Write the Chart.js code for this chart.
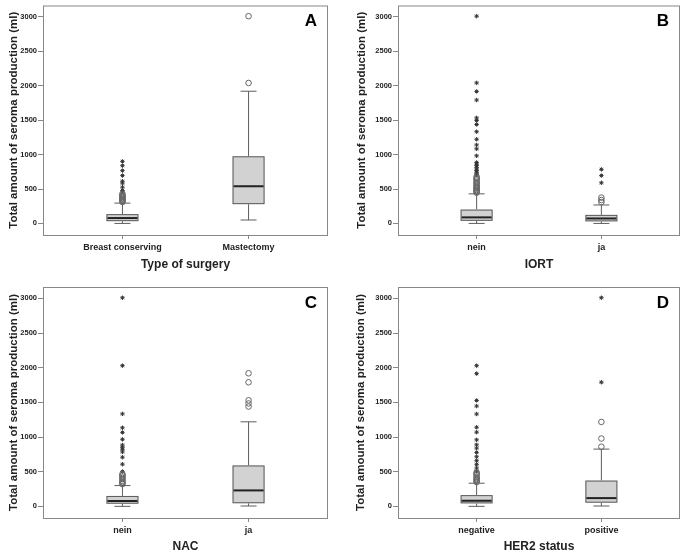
<!DOCTYPE html>
<html>
<head>
<meta charset="utf-8">
<script src="https://cdn.jsdelivr.net/npm/chart.js@4.4.1/dist/chart.umd.min.js"></script>
<style>
  html, body { margin: 0; padding: 0; background: #fff; overflow: hidden; }
  .panel { position: absolute; }
</style>
</head>
<body>
<div class="panel" style="left:0;top:0;width:340px;height:276px"><canvas id="chartA"></canvas></div>
<div class="panel" style="left:340px;top:0;width:345px;height:276px"><canvas id="chartB"></canvas></div>
<div class="panel" style="left:0;top:276px;width:340px;height:277px"><canvas id="chartC"></canvas></div>
<div class="panel" style="left:340px;top:276px;width:345px;height:277px"><canvas id="chartD"></canvas></div>
<script>
// Y axis shared by all panels
const yTitle = 'Total amount of seroma production (ml)';
const yTicks = [0, 500, 1000, 1500, 2000, 2500, 3000];

// Box rows: [lower whisker, Q1, median, Q3, upper whisker]
// A - type of surgery
const surgeryGroups = ['Breast conserving', 'Mastectomy'];
const surgeryBoxes = [[0, 33, 78, 135, 295], [50, 280, 540, 975, 1920]];
const surgeryOutliers = [[311, 322, 335, 345, 358, 370, 383, 398, 412, 431], [2040, 3010]];
const surgeryExtremes = [[455, 479, 527, 585, 613, 695, 767, 839, 901], []];

// B - IORT
const iortGroups = ['nein', 'ja'];
const iortBoxes = [[0, 38, 88, 201, 430], [0, 30, 72, 124, 268]];
const iortOutliers = [[446, 460, 470, 485, 503, 515, 527, 545, 565, 585, 599, 625, 645, 661, 680], [310, 340, 375]];
const iortExtremes = [[705, 719, 745, 767, 790, 815, 840, 862, 886, 982, 1083, 1140, 1222, 1332, 1437, 1495, 1533, 1792, 1917, 2041, 3010], [590, 695, 785]];

// C - NAC
const nacGroups = ['nein', 'ja'];
const nacBoxes = [[0, 38, 77, 150, 300], [5, 45, 230, 590, 1220]];
const nacOutliers = [[321, 336, 350, 369, 393, 410, 430, 450, 465], [1440, 1485, 1530, 1790, 1920]];
const nacExtremes = [[502, 608, 709, 785, 823, 852, 885, 967, 1067, 1134, 1334, 2030, 3010], []];

// D - HER2 status
const her2Groups = ['negative', 'positive'];
const her2Boxes = [[0, 43, 81, 162, 334], [5, 53, 119, 372, 826]];
const her2Outliers = [[350, 362, 380, 395, 411, 430, 458, 475, 490], [860, 979, 1218]];
const her2Extremes = [[506, 554, 606, 659, 716, 778, 840, 888, 960, 1070, 1141, 1332, 1447, 1528, 1915, 2030], [1791, 3010]];

const FONT = "'Liberation Sans', Arial, sans-serif";

// draws frame, boxes, whiskers and the panel letter
const boxPlugin = {
    id: 'boxes',
    beforeDatasetsDraw(chart, args, opts) {
        const { ctx, chartArea: a, scales: { x, y } } = chart;
        ctx.save();
        opts.boxes.forEach((b, i) => {
            const cx = x.getPixelForValue(i + 1);
            const [lo, q1, med, q3, hi] = b.map(v => y.getPixelForValue(v));
            const hw = 16, cw = 8;
            ctx.strokeStyle = '#5e5e5e';
            ctx.lineWidth = 1;
            ctx.beginPath();
            ctx.moveTo(cx, lo); ctx.lineTo(cx, q1);
            ctx.moveTo(cx, q3); ctx.lineTo(cx, hi);
            ctx.moveTo(cx - cw, lo); ctx.lineTo(cx + cw, lo);
            ctx.moveTo(cx - cw, hi); ctx.lineTo(cx + cw, hi);
            ctx.stroke();
            ctx.fillStyle = '#d2d2d2';
            ctx.fillRect(cx - hw, q3, hw * 2, q1 - q3);
            ctx.strokeStyle = '#5a5a5a';
            ctx.strokeRect(cx - hw + 0.5, q3 + 0.5, hw * 2 - 1, q1 - q3 - 1);
            ctx.strokeStyle = '#222';
            ctx.lineWidth = 2;
            ctx.beginPath();
            ctx.moveTo(cx - hw + 1, med); ctx.lineTo(cx + hw - 1, med);
            ctx.stroke();
        });
        ctx.strokeStyle = '#888';
        ctx.lineWidth = 1;
        ctx.strokeRect(a.left + 0.5, a.top + 0.5, a.right - a.left - 1, a.bottom - a.top);
        ctx.fillStyle = '#000';
        ctx.font = 'bold 17px ' + FONT;
        ctx.textAlign = 'center';
        ctx.textBaseline = 'middle';
        ctx.fillText(opts.letter, a.right - 17, a.top + 16);
        ctx.restore();
    }
};

function pointsFor(lists) {
    const pts = [];
    lists.forEach((vals, i) => vals.forEach(v => pts.push({ x: i + 1, y: v })));
    return pts;
}

function makeChart(id, cfg) {
    return new Chart(document.getElementById(id), {
        type: 'scatter',
        data: {
            datasets: [
                {
                    data: pointsFor(cfg.outliers),
                    pointStyle: 'circle',
                    pointRadius: 2.8,
                    borderColor: '#666',
                    backgroundColor: 'rgba(255,255,255,0)',
                    borderWidth: 1
                },
                {
                    data: pointsFor(cfg.extremes),
                    pointStyle: 'star',
                    pointRadius: 2.2,
                    borderColor: '#333',
                    backgroundColor: '#333',
                    borderWidth: 1
                }
            ]
        },
        options: {
            responsive: true,
            maintainAspectRatio: false,
            animation: false,
            events: [],
            layout: { padding: { top: cfg.top, right: cfg.right, left: 0, bottom: 0 } },
            plugins: {
                legend: { display: false },
                tooltip: { enabled: false },
                boxes: { boxes: cfg.boxes, letter: cfg.letter }
            },
            scales: {
                x: {
                    type: 'linear',
                    min: 0.37,
                    max: 2.63,
                    afterBuildTicks: s => { s.ticks = cfg.groups.map((g, i) => ({ value: i + 1 })); },
                    afterFit: s => { s.height = cfg.xh; },
                    ticks: {
                        callback: v => cfg.groups[v - 1],
                        font: { family: FONT, size: 9, weight: 'bold' },
                        color: '#222',
                        padding: 3,
                        maxRotation: 0,
                        autoSkip: false
                    },
                    grid: { drawOnChartArea: false, tickLength: 4, color: '#888' },
                    border: { display: false },
                    title: {
                        display: true,
                        text: cfg.xTitle,
                        font: { family: FONT, size: 12, weight: 'bold', lineHeight: 1 },
                        color: '#222',
                        padding: { top: 0, bottom: cfg.tb }
                    }
                },
                y: {
                    min: -168,
                    max: 3165,
                    afterBuildTicks: s => { s.ticks = yTicks.map(v => ({ value: v })); },
                    afterFit: s => { s.width = cfg.yw; },
                    ticks: {
                        callback: v => String(v),
                        font: { family: FONT, size: 7.5, weight: 'bold' },
                        color: '#222',
                        padding: 1
                    },
                    grid: { drawOnChartArea: false, tickLength: 5, color: '#888' },
                    border: { display: false },
                    title: {
                        display: true,
                        text: yTitle,
                        font: { family: FONT, size: 11.5, weight: 'bold', lineHeight: 1.2 },
                        color: '#222',
                        padding: { top: cfg.tp, bottom: 0 }
                    }
                }
            }
        },
        plugins: [boxPlugin]
    });
}

makeChart('chartA', {
    groups: surgeryGroups, boxes: surgeryBoxes, outliers: surgeryOutliers, extremes: surgeryExtremes,
    xTitle: 'Type of surgery', letter: 'A', top: 3, right: 12, yw: 43, xh: 41, tb: 5, tp: 7
});
makeChart('chartB', {
    groups: iortGroups, boxes: iortBoxes, outliers: iortOutliers, extremes: iortExtremes,
    xTitle: 'IORT', letter: 'B', top: 3, right: 2, yw: 58, xh: 41, tb: 5, tp: 15
});
makeChart('chartC', {
    groups: nacGroups, boxes: nacBoxes, outliers: nacOutliers, extremes: nacExtremes,
    xTitle: 'NAC', letter: 'C', top: 11, right: 12, yw: 43, xh: 35, tb: 0, tp: 7
});
makeChart('chartD', {
    groups: her2Groups, boxes: her2Boxes, outliers: her2Outliers, extremes: her2Extremes,
    xTitle: 'HER2 status', letter: 'D', top: 11, right: 3, yw: 58, xh: 35, tb: 0, tp: 14
});
</script>
</body>
</html>
